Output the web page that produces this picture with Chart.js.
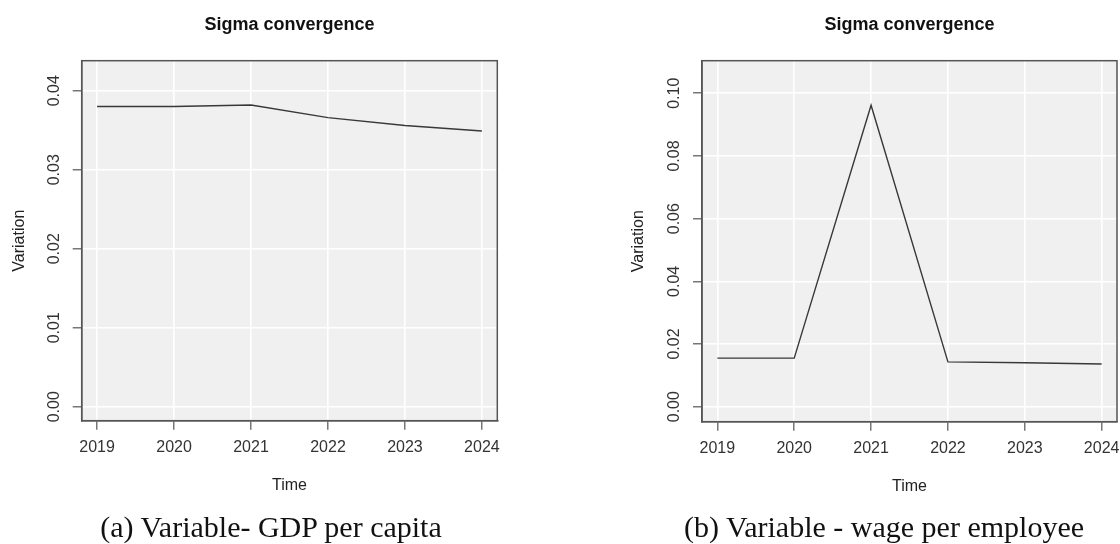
<!DOCTYPE html>
<html><head><meta charset="utf-8">
<script src="https://cdn.jsdelivr.net/npm/chart.js@4.4.1/dist/chart.umd.min.js"></script>
<style>
html,body{margin:0;padding:0;background:#fff;width:1120px;height:544px;overflow:hidden}
.panel{position:absolute;top:0;width:560px;height:544px}
canvas{display:block}
.cap{position:absolute;top:512px;font-family:"Liberation Serif","Times New Roman",serif;font-size:30px;line-height:30px;color:#111;white-space:nowrap;transform:translateX(-50%)}
</style></head>
<body>
<div class="panel" style="left:0"><canvas id="c1" width="560" height="544"></canvas></div>
<div class="panel" style="left:560px"><canvas id="c2" width="560" height="544"></canvas></div>
<div class="cap" style="left:271px">(a) Variable- GDP per capita</div>
<div class="cap" style="left:884px">(b) Variable - wage per employee</div>
<script>
// ---- data ----
const years = [2019, 2020, 2021, 2022, 2023, 2024];
const gdpPerCapita = [0.0380, 0.0380, 0.0382, 0.0366, 0.0356, 0.0349];
const wagePerEmployee = [0.0155, 0.0155, 0.0962, 0.0143, 0.0140, 0.0136];
const titleText = 'Sigma convergence';
const xTitle = 'Time';
const yTitle = 'Variation';

const frame = {
  id: 'frame',
  beforeDraw(chart) {
    const {ctx, chartArea: a} = chart;
    ctx.save();
    ctx.fillStyle = '#f0f0f0';
    ctx.fillRect(a.left, a.top, a.right - a.left, a.bottom - a.top);
    ctx.restore();
  },
  afterDraw(chart) {
    const {ctx, chartArea: a} = chart;
    ctx.save();
    ctx.strokeStyle = '#555555';
    ctx.lineWidth = 1.5;
    ctx.strokeRect(a.left, a.top, a.right - a.left, a.bottom - a.top);
    ctx.restore();
  }
};

const FONT = '"Liberation Sans", Arial, sans-serif';

function makeChart(id, vals, o) {
  return new Chart(document.getElementById(id), {
    type: 'line',
    data: {
      datasets: [{
        data: years.map((y, i) => ({x: y, y: vals[i]})),
        borderColor: '#383838',
        borderWidth: 1.4,
        pointRadius: 0,
        tension: 0,
        fill: false
      }]
    },
    options: {
      responsive: false,
      animation: false,
      devicePixelRatio: 1,
      layout: {padding: {left: o.padLeft, right: o.padRight, top: 0, bottom: o.padBottom}},
      plugins: {
        legend: {display: false},
        tooltip: {enabled: false},
        title: {
          display: true, text: titleText, fullSize: false,
          color: '#111',
          font: {family: FONT, size: 18, weight: 'bold', lineHeight: 1.2},
          padding: {top: 14.4, bottom: 24.7}
        }
      },
      scales: {
        x: {
          type: 'linear', min: 2018.8, max: 2024.2,
          afterFit(s) { s.height = 80; s.paddingLeft = 0; s.paddingRight = 0; },
          ticks: {stepSize: 1, includeBounds: false, autoSkip: false, maxRotation: 0, minRotation: 0,
            padding: 8.7, color: '#333', font: {family: FONT, size: 16},
            callback: v => String(v)},
          grid: {color: '#ffffff', lineWidth: 1.6, tickColor: '#555555', tickLength: 9, tickWidth: 1.2},
          border: {display: true, color: '#555555', width: 1.5},
          title: {display: true, text: xTitle, color: '#222', font: {family: FONT, size: 16, lineHeight: 1.2},
            padding: {top: 0, bottom: 5.1}}
        },
        y: {
          type: 'linear', min: o.ymin, max: o.ymax,
          afterFit(s) { s.width = o.yWidth; s.paddingTop = 0; s.paddingBottom = 0; },
          ticks: {stepSize: o.step, includeBounds: false, minRotation: 90, maxRotation: 90,
            crossAlign: 'center', padding: 2.8, color: '#333', font: {family: FONT, size: 16},
            callback: v => v.toFixed(2)},
          grid: {color: '#ffffff', lineWidth: 1.6, tickColor: '#555555', tickLength: 9, tickWidth: 1.2},
          border: {display: true, color: '#555555', width: 1.5},
          title: {display: true, text: yTitle, color: '#222', font: {family: FONT, size: 16, lineHeight: 1.2},
            padding: {top: 10.4, bottom: 0}}
        }
      }
    },
    plugins: [frame]
  });
}

makeChart('c1', gdpPerCapita, {
  padLeft: 0, padRight: 62.7, padBottom: 43.3, yWidth: 81.7,
  ymin: -0.00177, ymax: 0.0438, step: 0.01
});
makeChart('c2', wagePerEmployee, {
  padLeft: 58.5, padRight: 3, padBottom: 42.3, yWidth: 83.5,
  ymin: -0.00479, ymax: 0.1104, step: 0.02
});
</script>
</body></html>
